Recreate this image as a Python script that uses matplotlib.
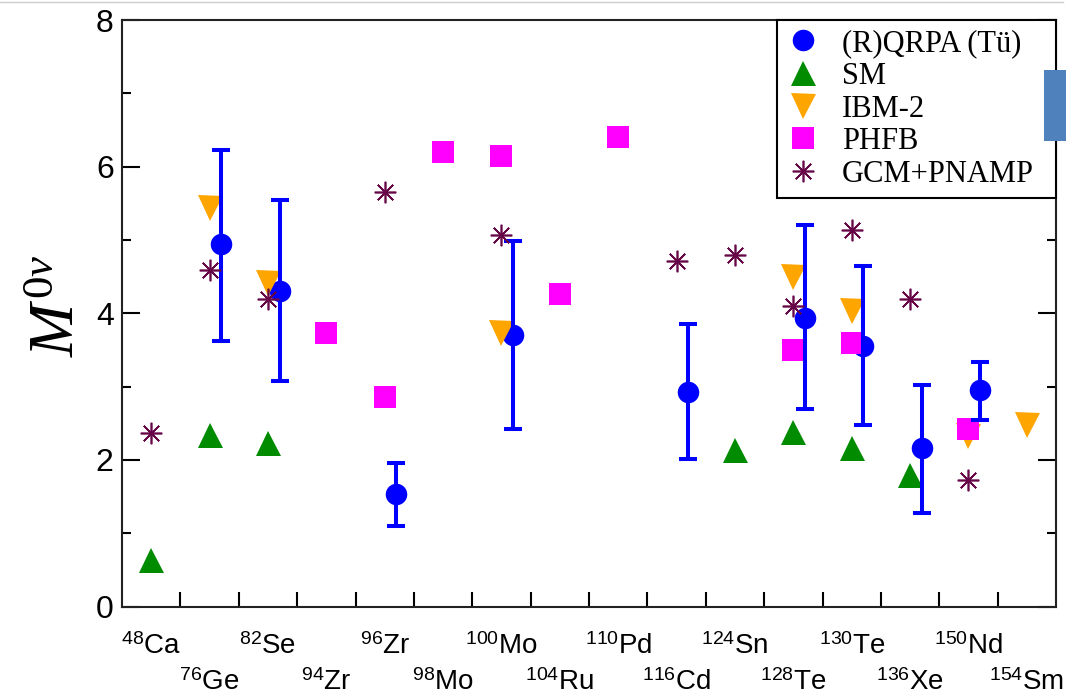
import matplotlib
matplotlib.use("Agg")
import numpy as np
import matplotlib.pyplot as plt
from matplotlib.lines import Line2D
from matplotlib.patches import Rectangle

plt.rcParams["mathtext.fontset"] = "custom"
plt.rcParams["mathtext.rm"] = "Liberation Serif"
plt.rcParams["mathtext.it"] = "Liberation Serif:italic"
plt.rcParams["mathtext.sf"] = "Liberation Sans"

# nuclei along the x axis (mass number, element)
mass = ["48", "76", "82", "94", "96", "98", "100", "104", "110", "116",
        "124", "128", "130", "136", "150", "154"]
elem = ["Ca", "Ge", "Se", "Zr", "Zr", "Mo", "Mo", "Ru", "Pd", "Cd",
        "Sn", "Te", "Te", "Xe", "Nd", "Sm"]

nan = np.nan
# (R)QRPA (Tu) with error bars
qrpa = [nan, 4.94, 4.31, nan, 1.53, nan, 3.70, nan, nan, 2.93,
        nan, 3.94, 3.56, 2.16, 2.95, nan]
qrpa_lo = [nan, 3.62, 3.07, nan, 1.10, nan, 2.42, nan, nan, 2.01,
           nan, 2.69, 2.47, 1.27, 2.55, nan]
qrpa_hi = [nan, 6.23, 5.55, nan, 1.96, nan, 4.98, nan, nan, 3.86,
           nan, 5.20, 4.65, 3.02, 3.34, nan]
sm = [0.63, 2.34, 2.23, nan, nan, nan, nan, nan, nan, nan,
      2.13, 2.38, 2.16, 1.79, nan, nan]
ibm2 = [nan, 5.43, 4.41, nan, nan, nan, 3.73, nan, nan, nan,
        nan, 4.49, 4.03, nan, 2.32, 2.47]
phfb = [nan, nan, nan, 3.73, 2.86, 6.20, 6.15, 4.27, 6.40, nan,
        nan, 3.50, 3.59, nan, 2.42, nan]
gcm = [2.37, 4.59, 4.20, nan, 5.65, nan, 5.07, nan, nan, 4.71,
       4.80, 4.10, 5.13, 4.20, 1.72, nan]

C_QRPA = "#0000ff"
C_SM = "#008b00"
C_IBM = "#ffa500"
C_PHFB = "#ff00ff"
C_GCM = "#670748"
STAR = (8, 2, 0)

W, H = 1066, 697
fig = plt.figure(figsize=(W / 100, H / 100), dpi=100)
ax = fig.add_axes([122 / W, 1 - 606.6 / H, (1056 - 122) / W, (606.6 - 20) / H])

x = np.arange(len(mass)) + 0.5
xq = x + 0.2

q = np.array(qrpa)
yerr = [q - np.array(qrpa_lo), np.array(qrpa_hi) - q]
ax.errorbar(xq, q, yerr=yerr, fmt="none", ecolor=C_QRPA, elinewidth=2.9,
            capsize=6.5, capthick=2.9, zorder=4)
ax.plot(xq, q, "o", color=C_QRPA, ms=15.5, mew=0, zorder=2)
ax.plot(x, sm, "^", color=C_SM, ms=18, mew=0, zorder=3)
ax.plot(x, ibm2, "v", color=C_IBM, ms=18, mew=0, zorder=3)
ax.plot(x, phfb, "s", color=C_PHFB, ms=16, mew=0, zorder=3)
ax.plot(x, gcm, marker=STAR, ls="none", color=C_GCM, ms=15.5, mew=1.2, zorder=5)

ax.set_xlim(0, 16)
ax.set_ylim(0, 8)
ax.set_xticks(np.arange(1, 16))
ax.set_xticklabels([])
ax.set_yticks([0, 2, 4, 6, 8])
ax.set_yticks([1, 3, 5, 7], minor=True)
ax.tick_params(axis="y", which="major", direction="in", length=13, width=1.5,
               right=True, labelsize=23, pad=6)
ax.tick_params(axis="y", which="minor", direction="in", length=6.5, width=1.5,
               right=True)
ax.tick_params(axis="x", which="major", direction="in", length=11, width=1.5)
for lab in ax.get_yticklabels():
    lab.set_fontfamily("Liberation Sans")
for s in ax.spines.values():
    s.set_linewidth(1.5)
    s.set_color("#222222")

# staggered isotope labels under the axis
trans = ax.get_xaxis_transform()
for i, (m, e) in enumerate(zip(mass, elem)):
    yb = -0.080 if i % 2 == 0 else -0.142
    ax.text(x[i], yb, r"$^{\mathsf{%s}}$%s" % (m, e), transform=trans,
            ha="center", va="baseline", fontsize=20,
            fontfamily="Liberation Sans", clip_on=False)

fig.text(56 / W, 1 - 306 / H, r"$M^{\mathit{0}\nu}$", rotation=90,
         ha="center", va="center", fontsize=46)

handles = [
    Line2D([], [], ls="none", marker="o", color=C_QRPA, ms=15.5, mew=0),
    Line2D([], [], ls="none", marker="^", color=C_SM, ms=18, mew=0),
    Line2D([], [], ls="none", marker="v", color=C_IBM, ms=18, mew=0),
    Line2D([], [], ls="none", marker="s", color=C_PHFB, ms=16, mew=0),
    Line2D([], [], ls="none", marker=STAR, color=C_GCM, ms=15.5, mew=1.2),
]
labels = ["(R)QRPA (Tü)", "SM", "IBM-2", "PHFB", "GCM+PNAMP"]
x0 = (777 - 122) / (1056 - 122)
leg = ax.legend(handles, labels, loc="upper left",
                bbox_to_anchor=(x0, 0, 1 - x0, 1), mode="expand",
                borderaxespad=0, frameon=True, fancybox=False, framealpha=1,
                edgecolor="black", prop={"family": "Liberation Serif", "size": 22},
                labelspacing=0.12, handletextpad=0.73, handlelength=1.09,
                borderpad=0.3)
leg.get_frame().set_linewidth(1.5)
leg.set_zorder(10)

# screenshot frame leftovers
fig.add_artist(Line2D([0, 1063 / W], [1 - 1.5 / H] * 2, color="#cccccc", lw=1))
fig.add_artist(Rectangle((1044 / W, 1 - 140.7 / H), 22 / W, 70.7 / H,
                         transform=fig.transFigure, color="#4f81bd", lw=0,
                         zorder=20))

fig.savefig("out.png", dpi=100)
